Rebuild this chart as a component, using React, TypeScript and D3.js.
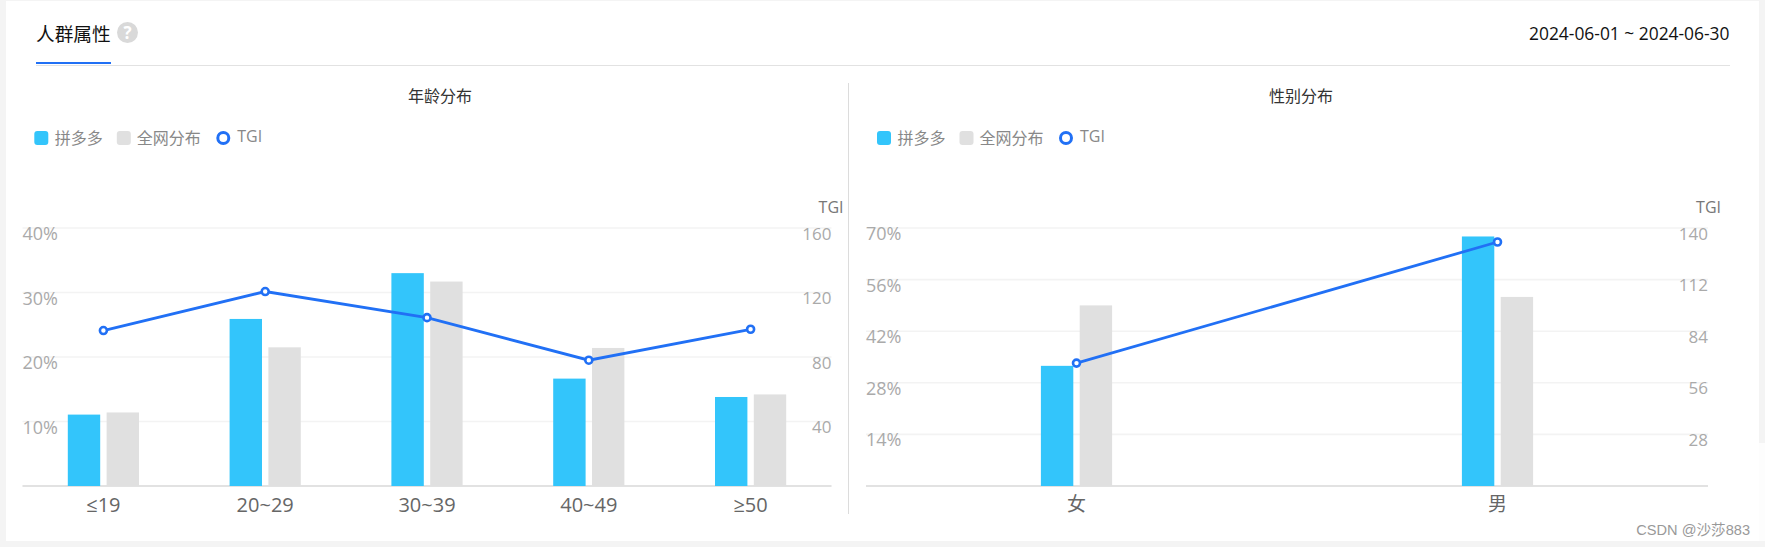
import React from "react";
import * as d3 from "d3";

const ageCategories = ["≤19", "20~29", "30~39", "40~49", "≥50"];
const agePdd = [11.07, 25.9, 33.0, 16.65, 13.8];
const ageAll = [11.4, 21.5, 31.7, 21.4, 14.2];
const ageTgi = [96.4, 120.6, 104.4, 78, 97.2];
const ageLeftTicks = [10, 20, 30, 40];
const ageRightTicks = [40, 80, 120, 160];

const genderCategories = ["女", "男"];
const genderPdd = [32.6, 67.7];
const genderAll = [49, 51.3];
const genderTgi = [66.7, 132.4];
const genderLeftTicks = [14, 28, 42, 56, 70];
const genderRightTicks = [28, 56, 84, 112, 140];

const legendNames = ["拼多多", "全网分布", "TGI"];

const BLUE = "#33c5fb";
const GRAY = "#e0e0e0";
const LINE = "#2170f5";
const FONT = "'Noto Sans CJK SC', 'Noto Sans', sans-serif";
const LATIN = "'Open Sans', 'Noto Sans CJK SC', sans-serif";

type PanelProps = {
  x0: number;
  x1: number;
  cats: string[];
  pdd: number[];
  all: number[];
  tgi: number[];
  leftTicks: number[];
  rightTicks: number[];
  barW: number;
  gap: number;
  title: string;
  titleX: number;
  legendX: number;
  tgiTitleX: number;
  labelSize: number;
};

function Panel(p: PanelProps) {
  const top = 228;
  const bottom = 486;
  const x = d3.scaleBand<string>().domain(p.cats).range([p.x0, p.x1]);
  const yL = d3.scaleLinear().domain([0, p.leftTicks[p.leftTicks.length - 1]]).range([bottom, top]);
  const yR = d3.scaleLinear().domain([0, p.rightTicks[p.rightTicks.length - 1]]).range([bottom, top]);
  const cx = (c: string) => (x(c) as number) + x.bandwidth() / 2;
  const line = d3
    .line<number>()
    .x((_, i) => cx(p.cats[i]))
    .y((d) => yR(d));
  const lx = p.legendX;
  return (
    <g>
      <text x={p.titleX} y={94.5} textAnchor="middle" dominantBaseline="central" fontSize={16} fill="#333" fontFamily={FONT}>
        {p.title}
      </text>
      <rect x={lx} y={131} width={14} height={14} rx={3} fill={BLUE} />
      <text x={lx + 20.5} y={136.5} dominantBaseline="central" fontSize={16} fill="#888" fontFamily={FONT}>
        {legendNames[0]}
      </text>
      <rect x={lx + 82.5} y={131} width={14} height={14} rx={3} fill={GRAY} />
      <text x={lx + 102.5} y={136.5} dominantBaseline="central" fontSize={16} fill="#888" fontFamily={FONT}>
        {legendNames[1]}
      </text>
      <circle cx={lx + 189} cy={138} r={5.5} fill="#fff" stroke={LINE} strokeWidth={3} />
      <text x={lx + 203} y={136} dominantBaseline="central" fontSize={16} fill="#888" fontFamily={LATIN}>
        {legendNames[2]}
      </text>
      <text x={p.tgiTitleX} y={206.5} textAnchor="end" dominantBaseline="central" fontSize={16} fill="#777" fontFamily={LATIN}>
        TGI
      </text>
      {p.leftTicks.map((t) => (
        <line key={t} x1={p.x0} x2={p.x1} y1={yL(t)} y2={yL(t)} stroke="#f3f3f3" strokeWidth={1.6} />
      ))}
      <line x1={p.x0} x2={p.x1} y1={bottom} y2={bottom} stroke="#e2e2e2" strokeWidth={1.8} />
      {p.leftTicks.map((t) => (
        <text key={t} x={p.x0} y={yL(t) + 5} dominantBaseline="central" fontSize={18} fill="#aaa" fontFamily={LATIN}>
          {t}%
        </text>
      ))}
      {p.rightTicks.map((t) => (
        <text key={t} x={p.x1} y={yR(t) + 5} textAnchor="end" dominantBaseline="central" fontSize={17} fill="#aaa" fontFamily={LATIN}>
          {t}
        </text>
      ))}
      {p.cats.map((c, i) => (
        <g key={c}>
          <rect x={cx(c) - p.gap / 2 - p.barW} y={yL(p.pdd[i])} width={p.barW} height={bottom - yL(p.pdd[i])} fill={BLUE} />
          <rect x={cx(c) + p.gap / 2} y={yL(p.all[i])} width={p.barW} height={bottom - yL(p.all[i])} fill={GRAY} />
          <text x={cx(c)} y={504} textAnchor="middle" dominantBaseline="central" fontSize={p.labelSize} fill="#666" fontFamily={LATIN}>
            {c}
          </text>
        </g>
      ))}
      <path d={line(p.tgi) as string} fill="none" stroke={LINE} strokeWidth={2.8} />
      {p.tgi.map((v, i) => (
        <circle key={i} cx={cx(p.cats[i])} cy={yR(v)} r={3.5} fill="#fff" stroke={LINE} strokeWidth={2.6} />
      ))}
    </g>
  );
}

export default function App() {
  return (
    <svg
      width={1765}
      height={547}
      style={{ position: "fixed", left: 0, top: 0, display: "block" }}
    >
      <rect x={0} y={0} width={1765} height={547} fill="#f4f4f4" />
      <rect x={6} y={1} width={1753} height={540} fill="#fff" />
      <rect x={1759} y={443} width={6} height={98} fill="#fdfdfd" />
      <text x={36} y={32.5} dominantBaseline="central" fontSize={18.7} fill="#111" fontFamily={FONT}>
        人群属性
      </text>
      <circle cx={127.5} cy={32.5} r={10.5} fill="#d9d9d9" />
      <text x={127.5} y={32.5} textAnchor="middle" dominantBaseline="central" fontSize={17} fontWeight={700} fill="#fff" fontFamily={LATIN}>
        ?
      </text>
      <text x={1729.5} y={33} textAnchor="end" dominantBaseline="central" fontSize={17.4} fill="#111" fontFamily={LATIN}>
        2024-06-01 ~ 2024-06-30
      </text>
      <line x1={36} x2={1730} y1={65.5} y2={65.5} stroke="#e2e2e2" strokeWidth={1.2} />
      <rect x={36} y={62} width={75} height={2} fill={LINE} />
      <line x1={848.5} x2={848.5} y1={83} y2={514} stroke="#dcdcdc" strokeWidth={1} />
      <Panel
        x0={22.5}
        x1={831.5}
        cats={ageCategories}
        pdd={agePdd}
        all={ageAll}
        tgi={ageTgi}
        leftTicks={ageLeftTicks}
        rightTicks={ageRightTicks}
        barW={32.4}
        gap={6.4}
        title="年龄分布"
        titleX={440}
        legendX={34.3}
        tgiTitleX={843.5}
        labelSize={20}
      />
      <Panel
        x0={866}
        x1={1708}
        cats={genderCategories}
        pdd={genderPdd}
        all={genderAll}
        tgi={genderTgi}
        leftTicks={genderLeftTicks}
        rightTicks={genderRightTicks}
        barW={32.4}
        gap={6.4}
        title="性别分布"
        titleX={1301}
        legendX={877}
        tgiTitleX={1721}
        labelSize={19}
      />
      <text x={1750} y={530} textAnchor="end" dominantBaseline="central" fontSize={14.6} fill="#999" fontFamily="'Liberation Sans', 'Noto Sans CJK SC', sans-serif">
        CSDN @沙莎883
      </text>
    </svg>
  );
}
